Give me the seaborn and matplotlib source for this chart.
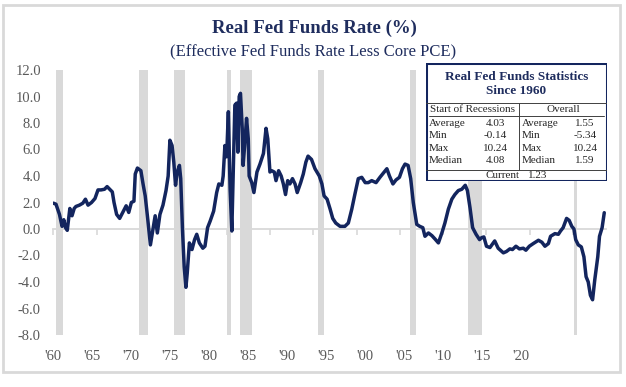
import numpy as np
import pandas as pd
import matplotlib
matplotlib.use("Agg")
import matplotlib.pyplot as plt
from matplotlib.patches import Rectangle
from matplotlib.lines import Line2D
import seaborn as sns

# ---------------- data ----------------
years = [1960.0, 1960.3, 1960.7, 1961.0, 1961.2, 1961.4, 1961.6, 1961.9, 1962.15, 1962.4,
         1962.6, 1963.0, 1963.4, 1963.7, 1964.0, 1964.4, 1964.8, 1965.15, 1965.5, 1965.9,
         1966.2, 1966.5, 1966.8, 1967.0, 1967.3, 1967.65, 1968.0, 1968.4, 1968.7, 1969.0,
         1969.3, 1969.45, 1969.7, 1970.1, 1970.35, 1970.6, 1970.9, 1971.2, 1971.5, 1971.75,
         1972.0, 1972.3, 1972.65, 1973.0, 1973.25, 1973.45, 1973.7, 1973.9, 1974.1, 1974.3,
         1974.55, 1974.7, 1974.9, 1975.1, 1975.3, 1975.45, 1975.7, 1976.0, 1976.3, 1976.55,
         1976.85, 1977.25, 1977.5, 1977.8, 1978.1, 1978.5, 1978.85, 1979.1, 1979.45, 1979.6,
         1979.8, 1980.0, 1980.2, 1980.4, 1980.6, 1980.75, 1980.95, 1981.15, 1981.3, 1981.45,
         1981.6, 1981.8, 1981.9, 1982.1, 1982.3, 1982.5, 1982.6, 1982.9, 1983.15, 1983.5,
         1983.85, 1984.25, 1984.55, 1984.75, 1985.0, 1985.2, 1985.5, 1985.7, 1986.0, 1986.3,
         1986.55, 1986.8, 1987.05, 1987.3, 1987.6, 1987.9, 1988.15, 1988.55, 1988.85, 1989.15,
         1989.4, 1989.8, 1990.2, 1990.7, 1991.0, 1991.25, 1991.6, 1991.95, 1992.25, 1992.6,
         1993.1, 1993.65, 1994.05, 1994.45, 1994.8, 1995.2, 1995.6, 1996.0, 1996.35, 1996.75,
         1997.25, 1997.7, 1998.2, 1998.5, 1998.8, 1999.2, 1999.55, 1999.95, 2000.3, 2000.6,
         2000.95, 2001.25, 2001.55, 2001.95, 2002.3, 2002.65, 2002.9, 2003.3, 2003.7, 2004.05,
         2004.45, 2004.85, 2005.2, 2005.6, 2006.0, 2006.35, 2006.75, 2007.15, 2007.55, 2007.8,
         2008.1, 2008.4, 2008.8, 2009.2, 2009.45, 2009.7, 2010.0, 2010.4, 2010.95, 2011.35,
         2011.95, 2012.3, 2012.7, 2013.0, 2013.4, 2013.8, 2014.25, 2014.55, 2014.95, 2015.4,
         2016.0, 2016.4, 2016.75, 2017.15, 2017.4, 2017.9, 2018.3, 2018.55, 2018.85, 2019.25,
         2019.55, 2019.85, 2020.1, 2020.3, 2020.6, 2020.95, 2021.25, 2021.5, 2021.75, 2022.0,
         2022.25, 2022.5, 2022.7, 2022.85, 2023.05, 2023.35, 2023.6]
real_ffr = [1.95, 1.87, 1.1, 0.2, 0.7, 0.1, -0.1, 1.55, 1.0, 1.55,
            1.7, 1.8, 1.95, 2.25, 1.8, 2.0, 2.3, 2.95, 2.95, 3.0,
            3.2, 3.0, 2.8, 2.0, 1.1, 0.8, 1.25, 1.75, 1.25, 2.0,
            2.1, 4.15, 4.6, 4.4, 3.4, 2.5, 0.7, -1.2, 0.0, 1.0,
            -0.3, 1.1, 1.8, 2.9, 4.0, 6.7, 6.3, 5.05, 3.3, 4.3,
            4.8, 3.8, 0.0, -2.85, -4.4, -3.35, -1.05, -1.55, -0.8, -0.4,
            -1.05, -1.45, -1.3, 0.1, 0.6, 1.35, 2.75, 3.4, 3.3, 4.0,
            6.3, 5.45, 8.85, 3.0, -0.15, 3.8, 9.35, 9.5, 5.8, 10.0,
            10.24, 7.6, 4.8, 6.45, 8.35, 6.8, 4.0, 3.5, 2.75, 4.3,
            4.9, 5.7, 7.6, 6.8, 4.3, 4.4, 4.3, 3.65, 4.4, 4.0,
            3.4, 2.6, 3.65, 3.4, 3.8, 3.4, 2.75, 3.5, 4.15, 5.05,
            5.5, 5.25, 4.55, 4.0, 3.4, 2.5, 2.25, 1.5, 0.8, 0.45,
            0.2, 0.2, 0.45, 1.5, 2.6, 3.8, 3.9, 3.5, 3.5, 3.65,
            3.5, 3.9, 4.3, 4.55, 4.0, 3.4, 3.7, 3.9, 4.55, 4.9,
            4.8, 3.8, 2.0, 0.35, 0.2, 0.1, -0.55, -0.3, -0.5, -0.75,
            -1.05, -0.3, 0.45, 1.5, 2.25, 2.6, 2.9, 3.0, 3.3, 2.9,
            1.6, 0.1, -0.4, -0.8, -0.65, -0.6, -1.3, -1.4, -0.9, -1.45,
            -1.8, -1.7, -1.5, -1.55, -1.3, -1.5, -1.45, -1.6, -1.3, -1.1,
            -0.85, -1.0, -1.3, -1.1, -0.55, -0.35, -0.4, -0.15, 0.1, 0.8,
            0.65, 0.2, 0.0, -0.8, -1.2, -1.35, -2.1, -3.6, -4.0, -5.0,
            -5.34, -3.85, -2.85, -2.1, -0.55, 0.1, 1.23]

recession_start = [1960.33, 1969.92, 1973.87, 1980.0, 1981.5, 1990.5, 2001.17, 2007.92, 2020.08]
recession_end = [1961.12, 1970.87, 1975.2, 1980.55, 1982.9, 1991.2, 2001.87, 2009.45, 2020.4]

x_tick_labels = ["'60", "'65", "'70", "'75", "'80", "'85", "'90", "'95", "'00", "'05", "'10", "'15", "'20"]
y_ticks = [-8, -6, -4, -2, 0, 2, 4, 6, 8, 10, 12]

stat_labels = ["Average", "Min", "Max", "Median"]
recession_stats = ["4.03", "-0.14", "10.24", "4.08"]
overall_stats = ["1.55", "-5.34", "10.24", "1.59"]
current_value = "1.23"

title = "Real Fed Funds Rate (%)"
subtitle = "(Effective Fed Funds Rate Less Core PCE)"
box_title = "Real Fed Funds Statistics\nSince 1960"

# ---------------- style ----------------
sns.set_style("white")
plt.rcParams["font.family"] = ["Liberation Serif", "DejaVu Serif"]
plt.rcParams["axes.unicode_minus"] = False

NAVY = "#13255e"
TXT = "#1f2d5e"
GRAY = "#d9d9d9"
TICK = "#595959"

W, H = 626, 387
fig = plt.figure(figsize=(W / 100, H / 100), dpi=100)


def fx(px):
    return px / W


def fy(py):
    return 1 - py / H


# plot area
left, right, top, bottom = 53.4, 606.0, 70.0, 335.0
ax = fig.add_axes([fx(left), fy(bottom), fx(right) - fx(left), fy(top) - fy(bottom)])

for s, e in zip(recession_start, recession_end):
    ax.axvspan(s, e, color=GRAY, lw=0, zorder=0)

df = pd.DataFrame({"year": years, "rate": real_ffr})
sns.lineplot(data=df, x="year", y="rate", ax=ax, color=NAVY, linewidth=2.5,
             sort=False, zorder=3)

ax.set_xlim(1960, 2023.8)
ax.set_ylim(-8, 12)
ax.set_xlabel("")
ax.set_ylabel("")
for sp in ax.spines.values():
    sp.set_visible(False)

ax.set_yticks(y_ticks)
ax.set_yticklabels([f"{v:.1f}" for v in y_ticks])
label_pos = [1960 + 4.5 * i for i in range(len(x_tick_labels))]
ax.set_xticks(label_pos)
ax.set_xticklabels(x_tick_labels)
ax.tick_params(axis="both", length=0, labelsize=10.5, labelcolor=TICK)
ax.tick_params(axis="y", pad=9)
ax.tick_params(axis="x", pad=11)

# zero axis with tick marks
sec = ax.secondary_xaxis(0.4)
sec.set_xticks(list(range(1960, 2021, 5)))
sec.set_xticklabels([])
sec.tick_params(axis="x", length=4, width=1.2, color=GRAY, direction="out")
for name, sp in sec.spines.items():
    sp.set_visible(name == "bottom")
sec.spines["bottom"].set_color(GRAY)
sec.spines["bottom"].set_linewidth(1.3)

# titles
fig.text(fx(314), fy(28), title, ha="center", va="center", fontsize=13.5,
         fontweight="bold", color=TXT)
fig.text(fx(313), fy(51.5), subtitle, ha="center", va="center", fontsize=12,
         color=TXT)

# figure border
fig.add_artist(Rectangle((fx(3), fy(372)), fx(620) - fx(3), fy(5) - fy(372),
                         transform=fig.transFigure, fill=False, edgecolor=GRAY, lw=2))

# statistics box
bl, br, bt, bb = 426, 607, 63, 181
bx = fig.add_axes([fx(bl), fy(bb), fx(br) - fx(bl), fy(bt) - fy(bb)])
bx.set_xlim(bl, br)
bx.set_ylim(bb, bt)
bx.axis("off")
bx.add_patch(Rectangle((bl, bt), br - bl, bb - bt, facecolor="white", edgecolor=NAVY,
                       lw=2.2, zorder=1))
bx.text((bl + br) / 2, 84, box_title, ha="center", va="center", fontsize=9.5,
        fontweight="bold", color=TXT, linespacing=1.25, zorder=3)
line_kw = dict(color="#404040", lw=0.7, zorder=2)
bx.add_line(Line2D([bl, br], [103, 103], **line_kw))
bx.add_line(Line2D([bl + 3, br - 3], [115.5, 115.5], **line_kw))
bx.add_line(Line2D([bl, br], [170, 170], **line_kw))
bx.add_line(Line2D([519, 519], [103, 170], **line_kw))
small = 8
bx.text(473, 109.5, "Start of Recessions", ha="center", va="center", fontsize=small, zorder=3)
bx.text(563, 109.5, "Overall", ha="center", va="center", fontsize=small, zorder=3)
row_y = [123.3, 136, 148.7, 160.7]
for lab, rv, ov, yy in zip(stat_labels, recession_stats, overall_stats, row_y):
    bx.text(429, yy, lab, ha="left", va="center", fontsize=small, zorder=3)
    bx.text(495, yy, rv, ha="center", va="center", fontsize=small, zorder=3)
    bx.text(522, yy, lab, ha="left", va="center", fontsize=small, zorder=3)
    bx.text(585, yy, ov, ha="center", va="center", fontsize=small, zorder=3)
bx.text(503, 175, "Current", ha="center", va="center", fontsize=small, zorder=3)
bx.text(538, 175, current_value, ha="center", va="center", fontsize=small, zorder=3)

fig.savefig("out.png", dpi=100)
